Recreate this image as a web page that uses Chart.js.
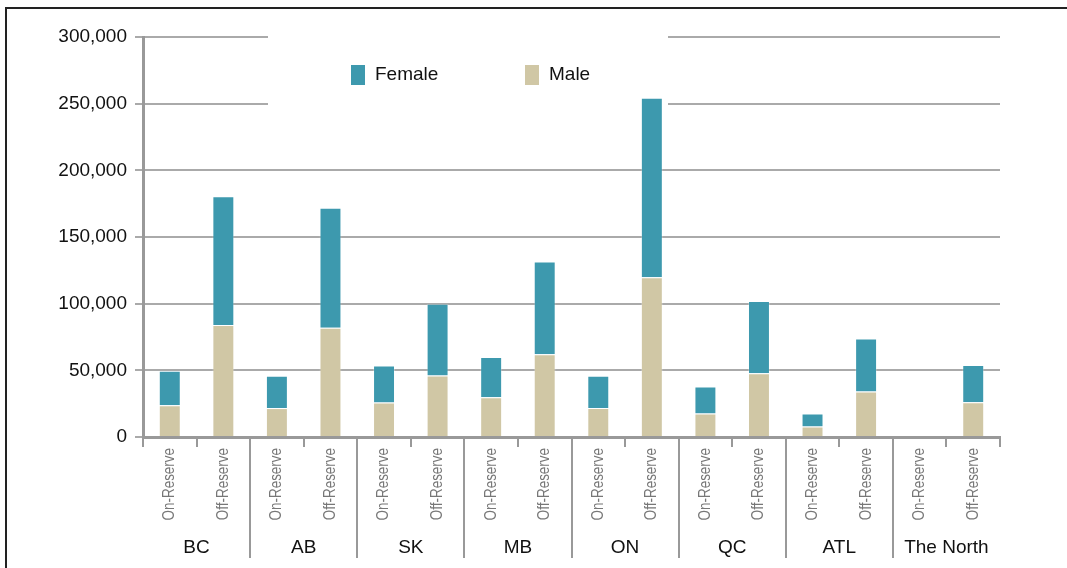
<!DOCTYPE html>
<html>
<head>
<meta charset="utf-8">
<script src="https://cdn.jsdelivr.net/npm/chart.js@4"></script>
<style>
  body { margin: 0; background: #fff; }
  #wrap { position: relative; width: 1067px; height: 568px; overflow: hidden; }
  #frame { position: absolute; left: 5px; top: 7px; width: 1200px; height: 700px;
           border-left: 2px solid #222; border-top: 2px solid #222; }
  #chart { position: absolute; left: 0; top: 0; }
</style>
</head>
<body>
<div id="wrap">
  <div id="frame"></div>
  <canvas id="chart" width="1067" height="568"></canvas>
</div>
<script>
var groups = ["BC", "AB", "SK", "MB", "ON", "QC", "ATL", "The North"];
var sub_labels = ["On-Reserve", "Off-Reserve"];
var categories = [];
groups.forEach(function () { categories.push(sub_labels[0], sub_labels[1]); });

var male = [23800, 84000, 21700, 82000, 25800, 46200, 29800, 62000,
            21700, 119900, 17700, 47900, 7900, 34100, 0, 26000];
var female = [25900, 96500, 24200, 90000, 27900, 53800, 30200, 69700,
              24200, 134600, 20200, 54100, 9800, 39700, 0, 28000];

var y_max = 300000;
var y_step = 50000;

const font_main = '"Liberation Sans", Arial, sans-serif';

// rotated narrow category labels, province separators and province names
const group_plugin = {
    id: "groups",
    afterDraw(chart) {
        const ctx = chart.ctx;
        const x = chart.scales.x;
        const bottom = chart.chartArea.bottom;
        ctx.save();

        ctx.fillStyle = "#777";
        ctx.font = "16px " + font_main;
        ctx.textAlign = "right";
        ctx.textBaseline = "middle";
        chart.data.labels.forEach(function (lbl, i) {
            const px = x.getPixelForValue(i);
            ctx.save();
            ctx.translate(px, bottom + 11);
            ctx.rotate(-Math.PI / 2);
            ctx.scale(0.84, 1);
            ctx.fillText(lbl, 0, 0);
            ctx.restore();
        });

        ctx.strokeStyle = "#999";
        ctx.lineWidth = 2;
        for (let g = 1; g < groups.length; g++) {
            const px = Math.round((x.getPixelForValue(2 * g - 1) + x.getPixelForValue(2 * g)) / 2);
            ctx.beginPath();
            ctx.moveTo(px, bottom);
            ctx.lineTo(px, 558);
            ctx.stroke();
        }
        ctx.fillStyle = "#111";
        ctx.font = "19px " + font_main;
        ctx.textAlign = "center";
        ctx.textBaseline = "middle";
        groups.forEach(function (name, i) {
            const px = (x.getPixelForValue(2 * i) + x.getPixelForValue(2 * i + 1)) / 2;
            ctx.fillText(name, px, 548);
        });
        ctx.restore();
    }
};

// legend sits on a white box that hides the top gridlines
const legend_plugin = {
    id: "boxlegend",
    beforeDatasetsDraw(chart) {
        const ctx = chart.ctx;
        ctx.save();
        ctx.fillStyle = "#fff";
        ctx.fillRect(268, 28, 400, 84);
        const order = [1, 0];
        const xs = [351, 525];
        ctx.font = "19px " + font_main;
        ctx.textBaseline = "middle";
        order.forEach(function (di, i) {
            const ds = chart.data.datasets[di];
            ctx.fillStyle = ds.backgroundColor;
            ctx.fillRect(xs[i], 65, 14, 20);
            ctx.fillStyle = "#111";
            ctx.fillText(ds.label, xs[i] + 24, 75);
        });
        ctx.restore();
    }
};

var ctx = document.getElementById("chart").getContext("2d");
var chart = new Chart(ctx, {
    type: "bar",
    data: {
        labels: categories,
        datasets: [
            { label: "Male", data: male, backgroundColor: "#d0c7a5",
              borderColor: "rgba(255,255,255,0.25)", borderWidth: 1 },
            { label: "Female", data: female, backgroundColor: "#3d99ae",
              borderColor: "rgba(255,255,255,0.25)", borderWidth: 1 }
        ]
    },
    options: {
        responsive: false,
        animation: false,
        layout: { padding: { left: 0, right: 67, top: 37, bottom: 0 } },
        barPercentage: 0.41,
        categoryPercentage: 1,
        plugins: {
            legend: { display: false },
            tooltip: { enabled: false }
        },
        scales: {
            x: {
                stacked: true,
                afterFit: function (s) { s.height = 131; },
                grid: { offset: true, drawOnChartArea: false, color: "#999", lineWidth: 2, tickLength: 10 },
                border: { color: "#999", width: 3 },
                ticks: { display: false, autoSkip: false }
            },
            y: {
                stacked: true,
                min: 0,
                max: y_max,
                afterFit: function (s) { s.width = 143; },
                grid: { color: "#aaa", lineWidth: 2, tickLength: 8 },
                border: { color: "#999", width: 3 },
                ticks: {
                    stepSize: y_step, padding: 8, color: "#111",
                    font: { family: font_main, size: 19 },
                    callback: function (v) { return v.toLocaleString("en-US"); }
                }
            }
        }
    },
    plugins: [legend_plugin, group_plugin]
});
</script>
</body>
</html>
